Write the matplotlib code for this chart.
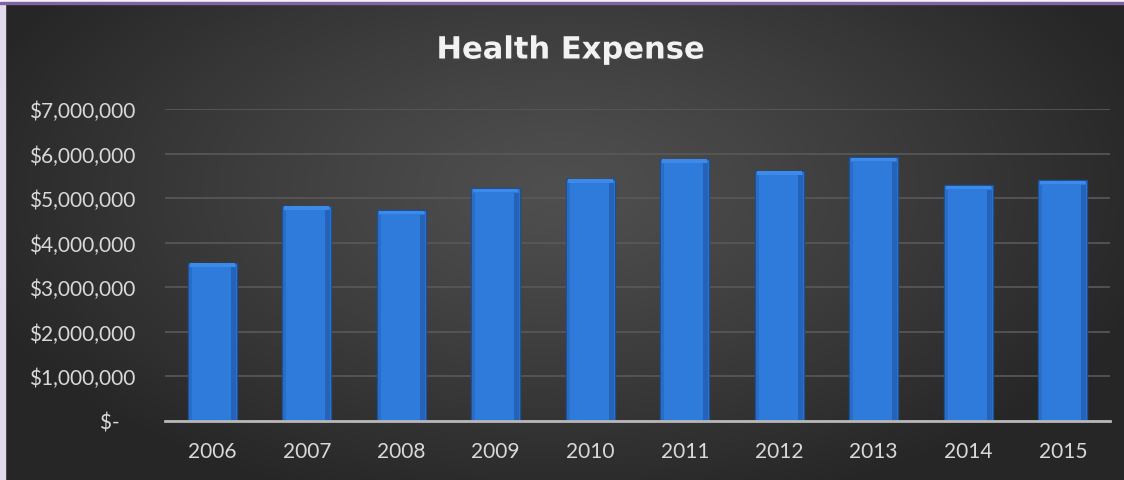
import numpy as np
import matplotlib.pyplot as plt
from matplotlib.patches import Rectangle
from matplotlib.ticker import FuncFormatter
import matplotlib.patheffects as pe

years = ['2006', '2007', '2008', '2009', '2010',
         '2011', '2012', '2013', '2014', '2015']
expense = [3540000, 4830000, 4720000, 5220000, 5430000,
           5880000, 5610000, 5920000, 5290000, 5400000]
y_ticks = [0, 1000000, 2000000, 3000000, 4000000, 5000000, 6000000, 7000000]

W, H = 1124, 481
fig = plt.figure(figsize=(W / 100, H / 100), dpi=100)
fig.patch.set_facecolor('#2a2a2a')

# radial gradient background
bg = fig.add_axes([0, 0, 1, 1], zorder=0)
yy, xx = np.mgrid[0:H, 0:W]
d = np.sqrt(((xx - 560) / 620.0) ** 2 + ((yy - 190) / 330.0) ** 2)
d = np.clip(d, 0, 1)
shade = 0.31 - 0.16 * d ** 1.2
bg.imshow(np.dstack([shade, shade, shade]), extent=[0, W, H, 0], aspect='auto')
bg.set_xlim(0, W)
bg.set_ylim(H, 0)
bg.axis('off')

# frame strips
fig.patches.append(Rectangle((0, 0), 5 / W, 1, transform=fig.transFigure,
                             color='#e2dbeb', zorder=1))
fig.patches.append(Rectangle((0, 1 - 3 / H), 1, 3 / H, transform=fig.transFigure,
                             color='#f4f2f7', zorder=1))
fig.patches.append(Rectangle((0, 1 - 5 / H), 1, 2 / H, transform=fig.transFigure,
                             color='#8064a2', zorder=1))

ax = fig.add_axes([165 / W, 59.5 / H, 945 / W, 311.5 / H], zorder=2)
ax.patch.set_alpha(0)

x = np.arange(len(years))
bars = ax.bar(x, expense, width=0.52, color='#2f7bdc', edgecolor='#1d4f93',
              linewidth=1.0, zorder=3)
# bevel shading on each bar
for b in bars:
    bx, bw, bh = b.get_x(), b.get_width(), b.get_height()
    ax.add_patch(Rectangle((bx + bw * 0.04, bh - 90000), bw * 0.92, 80000,
                           color='#3c8aea', lw=0, zorder=4))
    ax.add_patch(Rectangle((bx + bw * 0.88, 0), bw * 0.1, bh - 100000,
                           color='#2563b8', lw=0, zorder=4))
    ax.add_patch(Rectangle((bx + bw * 0.02, 0), bw * 0.06, bh - 100000,
                           color='#2a6dc6', lw=0, zorder=4))

ax.set_xlim(-0.5, len(years) - 0.5)
ax.set_ylim(0, 7000000)
ax.set_yticks(y_ticks)
ax.yaxis.set_major_formatter(FuncFormatter(
    lambda v, p: '$-   ' if v == 0 else '${:,.0f}'.format(v)))
ax.set_xticks(x)
ax.set_xticklabels(years)

ax.grid(axis='y', color='#595959', linewidth=1.2, zorder=1)
ax.set_axisbelow(True)
for s in ['top', 'right', 'left']:
    ax.spines[s].set_visible(False)
ax.spines['bottom'].set_color('#b8b8b8')
ax.spines['bottom'].set_linewidth(2)
ax.spines['bottom'].set_zorder(5)
ax.tick_params(axis='both', length=0, colors='#d9d9d9', labelsize=15)
ax.tick_params(axis='y', pad=21)
ax.tick_params(axis='x', pad=15)
for lab in ax.get_xticklabels() + ax.get_yticklabels():
    lab.set_family('Lato')

fig.text(570 / W, 1 - 51 / H, 'Health Expense', ha='center', va='center',
         color='#f2f2f2', fontsize=22, fontweight='bold', family='DejaVu Sans',
         path_effects=[pe.withSimplePatchShadow(offset=(1, -1.5), alpha=0.5)])

fig.savefig('out.png', dpi=100, facecolor=fig.get_facecolor())
